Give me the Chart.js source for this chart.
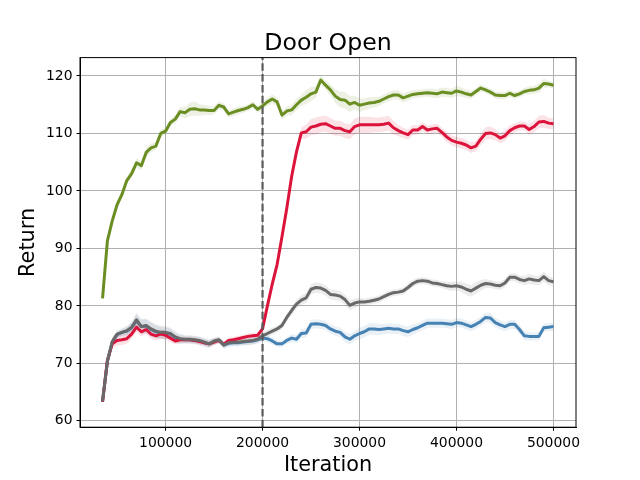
<!DOCTYPE html>
<html>
<head>
<meta charset="utf-8">
<script src="https://cdn.jsdelivr.net/npm/chart.js@4.4.1/dist/chart.umd.min.js"></script>
<style>
  html, body { margin: 0; padding: 0; background: #fff; }
</style>
</head>
<body>
<canvas id="chart" width="640" height="480"></canvas>
<script>
// --- data ------------------------------------------------------------------

const chartTitle = 'Door Open';

const iterations = [
  35000, 40000, 45000, 50000, 55000, 60000, 65000, 70000, 75000, 80000,
  85000, 90000, 95000, 100000, 105000, 110000, 115000, 120000, 125000, 130000,
  135000, 140000, 145000, 150000, 155000, 160000, 165000, 170000, 175000, 180000,
  185000, 190000, 195000, 200000, 205000, 210000, 215000, 220000, 225000, 230000,
  235000, 240000, 245000, 250000, 255000, 260000, 265000, 270000, 275000, 280000,
  285000, 290000, 295000, 300000, 305000, 310000, 315000, 320000, 325000, 330000,
  335000, 340000, 345000, 350000, 355000, 360000, 365000, 370000, 375000, 380000,
  385000, 390000, 395000, 400000, 405000, 410000, 415000, 420000, 425000, 430000,
  435000, 440000, 445000, 450000, 455000, 460000, 465000, 470000, 475000, 480000,
  485000, 490000, 495000, 500000
];

const greenMean = [
  81.3, 91.3, 94.8, 97.6, 99.4, 101.8, 103.0, 104.9, 104.4, 106.7,
  107.5, 107.8, 110.0, 110.4, 111.9, 112.5, 113.8, 113.6, 114.2, 114.3,
  114.1, 114.1, 114.0, 114.0, 114.9, 114.6, 113.4, 113.7, 114.0, 114.2,
  114.5, 115.0, 114.2, 114.8, 115.5, 116.0, 115.5, 113.2, 113.9, 114.1,
  115.0, 115.8, 116.3, 116.9, 117.2, 119.3, 118.4, 117.6, 116.5, 115.9,
  115.8, 115.1, 115.4, 114.9, 115.1, 115.3, 115.4, 115.6, 116.0, 116.4,
  116.7, 116.7, 116.2, 116.5, 116.8, 116.9, 117.0, 117.1, 117.0, 116.9,
  117.2, 117.1, 117.0, 117.4, 117.2, 116.9, 116.7, 117.3, 117.9, 117.6,
  117.2, 116.7, 116.6, 116.6, 117.0, 116.6, 116.9, 117.3, 117.5, 117.6,
  117.9, 118.7, 118.6, 118.4
];
const greenSpread = [
  0.3, 0.4, 0.4, 0.4, 0.5, 0.6, 0.6, 0.8, 0.8, 0.8,
  0.8, 0.7, 0.7, 0.6, 0.6, 0.7, 0.8, 1.0, 1.2, 1.2,
  1.0, 0.9, 0.8, 0.7, 0.7, 0.6, 0.6, 0.7, 0.7, 0.6,
  0.6, 0.6, 0.6, 0.7, 0.7, 0.8, 0.8, 0.8, 0.8, 0.9,
  1.0, 1.0, 1.2, 1.2, 1.0, 0.8, 0.8, 1.0, 1.2, 1.4,
  1.4, 1.4, 1.2, 1.2, 1.0, 1.0, 0.9, 0.8, 0.8, 0.8,
  0.8, 0.8, 0.8, 0.8, 0.7, 0.7, 0.7, 0.7, 0.8, 0.8,
  0.8, 0.8, 0.8, 0.9, 0.8, 0.7, 0.7, 0.6, 0.6, 0.6,
  0.6, 0.6, 0.6, 0.6, 0.6, 0.6, 0.6, 0.6, 0.7, 0.7,
  0.8, 0.8, 0.6, 0.6
];

const redMean = [
  63.3, 70.5, 73.4, 74.0, 74.1, 74.3, 75.1, 76.3, 75.5, 75.9,
  75.1, 74.8, 75.1, 74.9, 74.4, 73.9, 74.1, 74.1, 74.1, 74.0,
  73.8, 73.6, 73.4, 73.7, 74.0, 73.3, 74.0, 74.1, 74.3, 74.5,
  74.7, 74.8, 74.9, 76.0, 80.0, 83.8, 87.2, 92.0, 97.0, 102.5,
  106.8, 110.1, 110.3, 111.1, 111.3, 111.6, 111.7, 111.3, 110.9, 110.9,
  110.5, 110.3, 111.2, 111.5, 111.5, 111.5, 111.5, 111.5, 111.6, 111.8,
  111.0, 110.5, 110.1, 109.8, 110.6, 110.6, 111.2, 110.6, 110.8, 110.9,
  110.2, 109.4, 108.8, 108.5, 108.3, 108.0, 107.5, 107.8, 109.0, 110.0,
  110.1, 109.8, 109.2, 109.6, 110.5, 111.0, 111.3, 111.3, 110.7, 111.2,
  112.0, 112.1, 111.8, 111.7
];
const redSpread = [
  0.6, 0.7, 0.8, 0.9, 0.9, 0.9, 0.8, 0.8, 0.8, 0.8,
  0.8, 0.8, 0.8, 0.8, 0.7, 0.6, 0.6, 0.5, 0.5, 0.5,
  0.5, 0.5, 0.5, 0.5, 0.5, 0.5, 0.5, 0.5, 0.5, 0.5,
  0.5, 0.5, 0.5, 0.6, 0.8, 1.0, 1.0, 1.0, 1.0, 1.0,
  1.0, 1.0, 1.2, 1.4, 1.5, 1.4, 1.4, 1.4, 1.3, 1.3,
  1.3, 1.3, 1.4, 1.4, 1.4, 1.4, 1.3, 1.3, 1.3, 1.3,
  1.2, 1.0, 0.9, 0.9, 0.9, 0.8, 0.8, 0.8, 0.8, 0.8,
  0.8, 0.9, 0.9, 0.9, 0.9, 0.9, 0.9, 0.9, 1.0, 1.1,
  1.1, 1.0, 0.9, 0.9, 0.9, 0.8, 0.8, 0.8, 0.9, 1.0,
  1.1, 1.1, 1.0, 0.9
];

const grayMean = [
  63.4, 70.4, 73.8, 75.1, 75.4, 75.7, 76.3, 77.6, 76.4, 76.6,
  76.0, 75.6, 75.4, 75.4, 75.2, 74.6, 74.3, 74.2, 74.2, 74.1,
  74.0, 73.7, 73.4, 73.9, 74.1, 73.2, 73.6, 73.7, 73.7, 73.8,
  73.9, 74.0, 74.2, 74.8, 75.2, 75.6, 76.0, 76.6, 78.0, 79.2,
  80.3, 81.0, 81.4, 82.9, 83.2, 83.1, 82.7, 82.0, 81.9, 81.7,
  81.1, 80.1, 80.5, 80.7, 80.7, 80.8, 81.0, 81.2, 81.6, 82.0,
  82.3, 82.4, 82.6, 83.2, 83.9, 84.3, 84.4, 84.3, 84.0, 83.9,
  83.7, 83.5, 83.4, 83.5, 83.3, 82.9, 82.6, 83.1, 83.6, 83.9,
  83.8, 83.6, 83.5, 84.0, 85.0, 85.0, 84.6, 84.4, 84.7, 84.5,
  84.4, 85.1, 84.4, 84.2
];
const graySpread = [
  0.5, 0.6, 0.6, 0.6, 0.6, 0.7, 0.9, 1.2, 1.3, 1.2,
  1.2, 1.2, 1.2, 1.1, 1.0, 1.0, 0.8, 0.7, 0.7, 0.7,
  0.7, 0.7, 0.7, 0.6, 0.6, 0.6, 0.6, 0.6, 0.6, 0.6,
  0.7, 0.7, 0.7, 0.6, 0.6, 0.6, 0.6, 0.6, 0.7, 0.7,
  0.8, 0.8, 0.9, 0.9, 0.9, 0.9, 0.9, 0.9, 0.9, 0.9,
  0.9, 0.9, 0.8, 0.7, 0.6, 0.6, 0.6, 0.6, 0.6, 0.6,
  0.6, 0.6, 0.6, 0.6, 0.6, 0.6, 0.6, 0.6, 0.6, 0.6,
  0.6, 0.7, 0.8, 0.8, 0.9, 1.0, 1.0, 1.0, 0.9, 0.8,
  0.7, 0.7, 0.7, 0.7, 0.7, 0.7, 0.7, 0.8, 0.9, 0.8,
  0.8, 0.9, 0.8, 0.7
];

const blueMean = [
  63.4, 70.3, 73.7, 75.0, 75.4, 75.6, 76.2, 77.4, 76.4, 76.5,
  75.9, 75.5, 75.3, 75.3, 75.1, 74.5, 74.2, 74.1, 74.1, 74.0,
  73.9, 73.6, 73.4, 73.8, 74.0, 73.2, 73.5, 73.6, 73.6, 73.7,
  73.8, 73.9, 74.1, 74.4, 74.3, 73.9, 73.4, 73.4, 74.0, 74.4,
  74.2, 75.2, 75.3, 76.8, 76.9, 76.8, 76.6, 76.0, 75.6, 75.4,
  74.6, 74.2, 74.8, 75.2, 75.5, 76.0, 76.0, 75.9, 76.0, 76.1,
  76.0, 76.0, 75.7, 75.5, 75.9, 76.2, 76.6, 77.0, 77.0, 77.0,
  77.0, 76.9, 76.8, 77.1, 77.0, 76.7, 76.4, 76.8, 77.3, 78.0,
  77.9, 77.1, 76.7, 76.4, 76.8, 76.8, 75.9, 74.8, 74.7, 74.7,
  74.7, 76.2, 76.3, 76.4
];
const blueSpread = [
  0.5, 0.6, 0.6, 0.6, 0.7, 0.8, 1.0, 1.2, 1.2, 1.2,
  1.2, 1.1, 1.0, 1.0, 0.9, 0.8, 0.8, 0.7, 0.7, 0.7,
  0.7, 0.7, 0.7, 0.6, 0.6, 0.6, 0.6, 0.6, 0.6, 0.6,
  0.6, 0.6, 0.6, 0.6, 0.6, 0.6, 0.6, 0.6, 0.6, 0.7,
  0.7, 0.8, 0.8, 0.8, 0.8, 0.8, 0.8, 0.8, 0.8, 0.8,
  0.9, 0.9, 0.9, 1.0, 1.0, 1.0, 1.0, 1.0, 0.9, 0.9,
  0.9, 0.9, 0.9, 0.9, 0.9, 0.8, 0.8, 0.8, 0.8, 0.8,
  0.8, 0.8, 0.8, 0.8, 0.8, 0.8, 0.8, 0.8, 0.8, 0.8,
  0.9, 0.8, 0.8, 0.8, 0.8, 0.8, 0.8, 0.8, 0.7, 0.7,
  0.7, 0.7, 0.7, 0.7
];

const switchIteration = 200000;
const xTickValues = [100000, 200000, 300000, 400000, 500000];
const yTickValues = [60, 70, 80, 90, 100, 110, 120];

// --- styling ----------------------------------------------------------------

const FONT = "'DejaVu Sans', 'Liberation Sans', sans-serif";
Chart.defaults.font.family = FONT;
Chart.defaults.color = '#000';

// drawn top-first: gray over red over green over blue
const series = [
  { name: 'gray',  mean: grayMean,  spread: graySpread,  color: '#696969', band: 'rgba(105,105,105,0.13)' },
  { name: 'red',   mean: redMean,   spread: redSpread,   color: '#dc143c', band: 'rgba(220,20,60,0.12)' },
  { name: 'green', mean: greenMean, spread: greenSpread, color: '#6b8e23', band: 'rgba(107,142,35,0.12)' },
  { name: 'blue',  mean: blueMean,  spread: blueSpread,  color: '#4682b4', band: 'rgba(70,130,180,0.12)' }
];

const points = vals => iterations.map((x, i) => ({ x: x, y: vals[i] }));

const lineSets = series.map(s => ({
  label: s.name,
  data: points(s.mean),
  borderColor: s.color,
  borderWidth: 3,
  borderJoinStyle: 'round',
  pointRadius: 0,
  fill: false
}));

const bandSets = [];
series.forEach(s => {
  bandSets.push({
    label: s.name + ' upper',
    data: points(s.mean.map((v, i) => v + s.spread[i])),
    borderWidth: 0,
    pointRadius: 0,
    backgroundColor: s.band,
    fill: '+1'
  });
  bandSets.push({
    label: s.name + ' lower',
    data: points(s.mean.map((v, i) => v - s.spread[i])),
    borderWidth: 0,
    pointRadius: 0,
    fill: false
  });
});

// dashed switch line, top/right frame, title centred over the plot area
const overlay = {
  id: 'overlay',
  afterDatasetsDraw(chart) {
    const { ctx, chartArea, scales } = chart;
    const x = scales.x.getPixelForValue(switchIteration);
    ctx.save();
    ctx.strokeStyle = '#5a5a5a';
    ctx.lineWidth = 2.2;
    ctx.setLineDash([7.5, 3.3]);
    ctx.beginPath();
    ctx.moveTo(x, chartArea.bottom);
    ctx.lineTo(x, chartArea.top);
    ctx.stroke();
    ctx.restore();
  },
  afterDraw(chart) {
    const { ctx, chartArea } = chart;
    ctx.save();
    ctx.strokeStyle = '#000';
    ctx.lineWidth = 1;
    ctx.strokeRect(chartArea.left, chartArea.top, chartArea.right - chartArea.left, chartArea.bottom - chartArea.top);
    ctx.fillStyle = '#000';
    ctx.font = '23.6px ' + FONT;
    ctx.textAlign = 'center';
    ctx.textBaseline = 'alphabetic';
    ctx.fillText(chartTitle, (chartArea.left + chartArea.right) / 2, 49.5);
    ctx.restore();
  }
};

new Chart(document.getElementById('chart'), {
  type: 'line',
  data: { datasets: lineSets.concat(bandSets) },
  options: {
    responsive: false,
    animation: false,
    layout: { padding: { left: 0, right: 64, top: 57.6, bottom: 0 } },
    elements: { line: { tension: 0 } },
    plugins: {
      legend: { display: false },
      tooltip: { enabled: false },
      title: { display: false }
    },
    scales: {
      x: {
        type: 'linear',
        min: 11750,
        max: 523250,
        afterBuildTicks: scale => { scale.ticks = xTickValues.map(v => ({ value: v })); },
        afterFit: scale => { scale.height = 52.8; scale.paddingLeft = 0; scale.paddingRight = 0; },
        ticks: {
          autoSkip: false,
          maxRotation: 0,
          padding: 4,
          color: '#000',
          font: { size: 13.9 },
          callback: v => String(v)
        },
        grid: { color: '#b0b0b0', lineWidth: 1, tickColor: '#000', tickLength: 3.5 },
        border: { color: '#000', width: 1 },
        title: {
          display: true,
          text: 'Iteration',
          color: '#000',
          font: { size: 20.8 },
          padding: { top: 0, bottom: 1.5 }
        }
      },
      y: {
        min: 58.9,
        max: 123.2,
        afterBuildTicks: scale => { scale.ticks = yTickValues.map(v => ({ value: v })); },
        afterFit: scale => { scale.width = 80; scale.paddingTop = 0; scale.paddingBottom = 0; },
        ticks: {
          padding: 4,
          color: '#000',
          font: { size: 13.9 },
          callback: v => String(v)
        },
        grid: { color: '#b0b0b0', lineWidth: 1, tickColor: '#000', tickLength: 3.5 },
        border: { color: '#000', width: 1 },
        title: {
          display: true,
          text: 'Return',
          color: '#000',
          font: { size: 20.8 },
          padding: { top: 16, bottom: 0 }
        }
      }
    }
  },
  plugins: [overlay]
});
</script>
</body>
</html>
